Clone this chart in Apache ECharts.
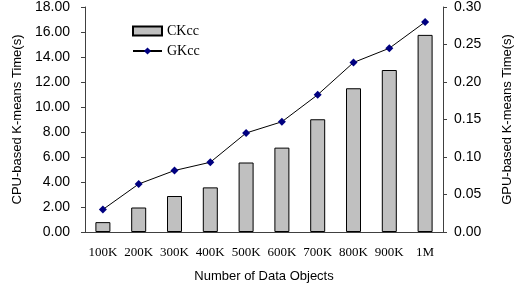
<!DOCTYPE html>
<html>
<head>
<meta charset="utf-8">
<script src="https://cdn.jsdelivr.net/npm/echarts@6/dist/echarts.min.js"></script>
<style>
  html, body { margin: 0; padding: 0; background: #fff; }
  #chart { width: 522px; height: 288px; }
</style>
</head>
<body>
<div id="chart"></div>
<script>
const categories = ["100K", "200K", "300K", "400K", "500K", "600K", "700K", "800K", "900K", "1M"];
const ckcc = [0.79, 1.96, 2.88, 3.57, 5.56, 6.75, 9.02, 11.5, 12.96, 15.77];
const gkcc = [0.030, 0.064, 0.082, 0.093, 0.132, 0.147, 0.183, 0.226, 0.245, 0.280];

var myChart = echarts.init(document.getElementById("chart"));
var option = {
  animation: false,
  grid: { left: 85, right: 69, top: 7, bottom: 54 },
  legend: {
    orient: "vertical",
    left: 127,
    top: 19,
    itemWidth: 29,
    itemHeight: 9,
    itemGap: 6,
    textStyle: { fontFamily: "Liberation Serif", fontSize: 14, color: "#000" },
    data: [{ name: "CKcc", icon: "rect" }, { name: "GKcc" }],
  },
  xAxis: {
    type: "category",
    data: categories,
    name: "Number of Data Objects",
    nameLocation: "middle",
    nameGap: 38,
    nameTextStyle: { fontFamily: "Liberation Sans", fontSize: 13, color: "#000" },
    axisLine: { lineStyle: { color: "#404040", width: 1 } },
    axisTick: { inside: true, length: 4, lineStyle: { color: "#404040" } },
    axisLabel: { interval: 0, fontFamily: "Liberation Serif", fontSize: 13, color: "#000", margin: 14 },
  },
  yAxis: [
    {
      type: "value",
      min: 0,
      max: 18,
      interval: 2,
      name: "CPU-based K-means Time(s)",
      nameLocation: "middle",
      nameGap: 57,
      nameTextStyle: { fontFamily: "Liberation Sans", fontSize: 13, color: "#000" },
      axisLine: { show: true, lineStyle: { color: "#404040" } },
      axisTick: { show: true, length: 4, lineStyle: { color: "#404040" } },
      splitLine: { show: false },
      axisLabel: {
        fontFamily: "Liberation Sans",
        fontSize: 14,
        color: "#000",
        margin: 15,
        formatter: (v) => v.toFixed(2),
      },
    },
    {
      type: "value",
      min: 0,
      max: 0.3,
      interval: 0.05,
      name: "GPU-based K-means Time(s)",
      nameLocation: "middle",
      nameGap: 58,
      nameTextStyle: { fontFamily: "Liberation Sans", fontSize: 13, color: "#000" },
      axisLine: { show: true, lineStyle: { color: "#404040" } },
      axisTick: { show: true, length: 4, lineStyle: { color: "#404040" } },
      splitLine: { show: false },
      axisLabel: {
        fontFamily: "Liberation Sans",
        fontSize: 14,
        color: "#000",
        margin: 11,
        formatter: (v) => v.toFixed(2),
      },
    },
  ],
  series: [
    {
      name: "CKcc",
      type: "bar",
      yAxisIndex: 0,
      barWidth: 15,
      data: ckcc,
      itemStyle: { color: "#c0c0c0", borderColor: "#000", borderWidth: 1 },
    },
    {
      name: "GKcc",
      type: "line",
      yAxisIndex: 1,
      data: gkcc,
      symbol: "diamond",
      symbolSize: 8,
      lineStyle: { color: "#000", width: 1 },
      itemStyle: { color: "#000080" },
    },
  ],
};
myChart.setOption(option);
</script>
</body>
</html>
